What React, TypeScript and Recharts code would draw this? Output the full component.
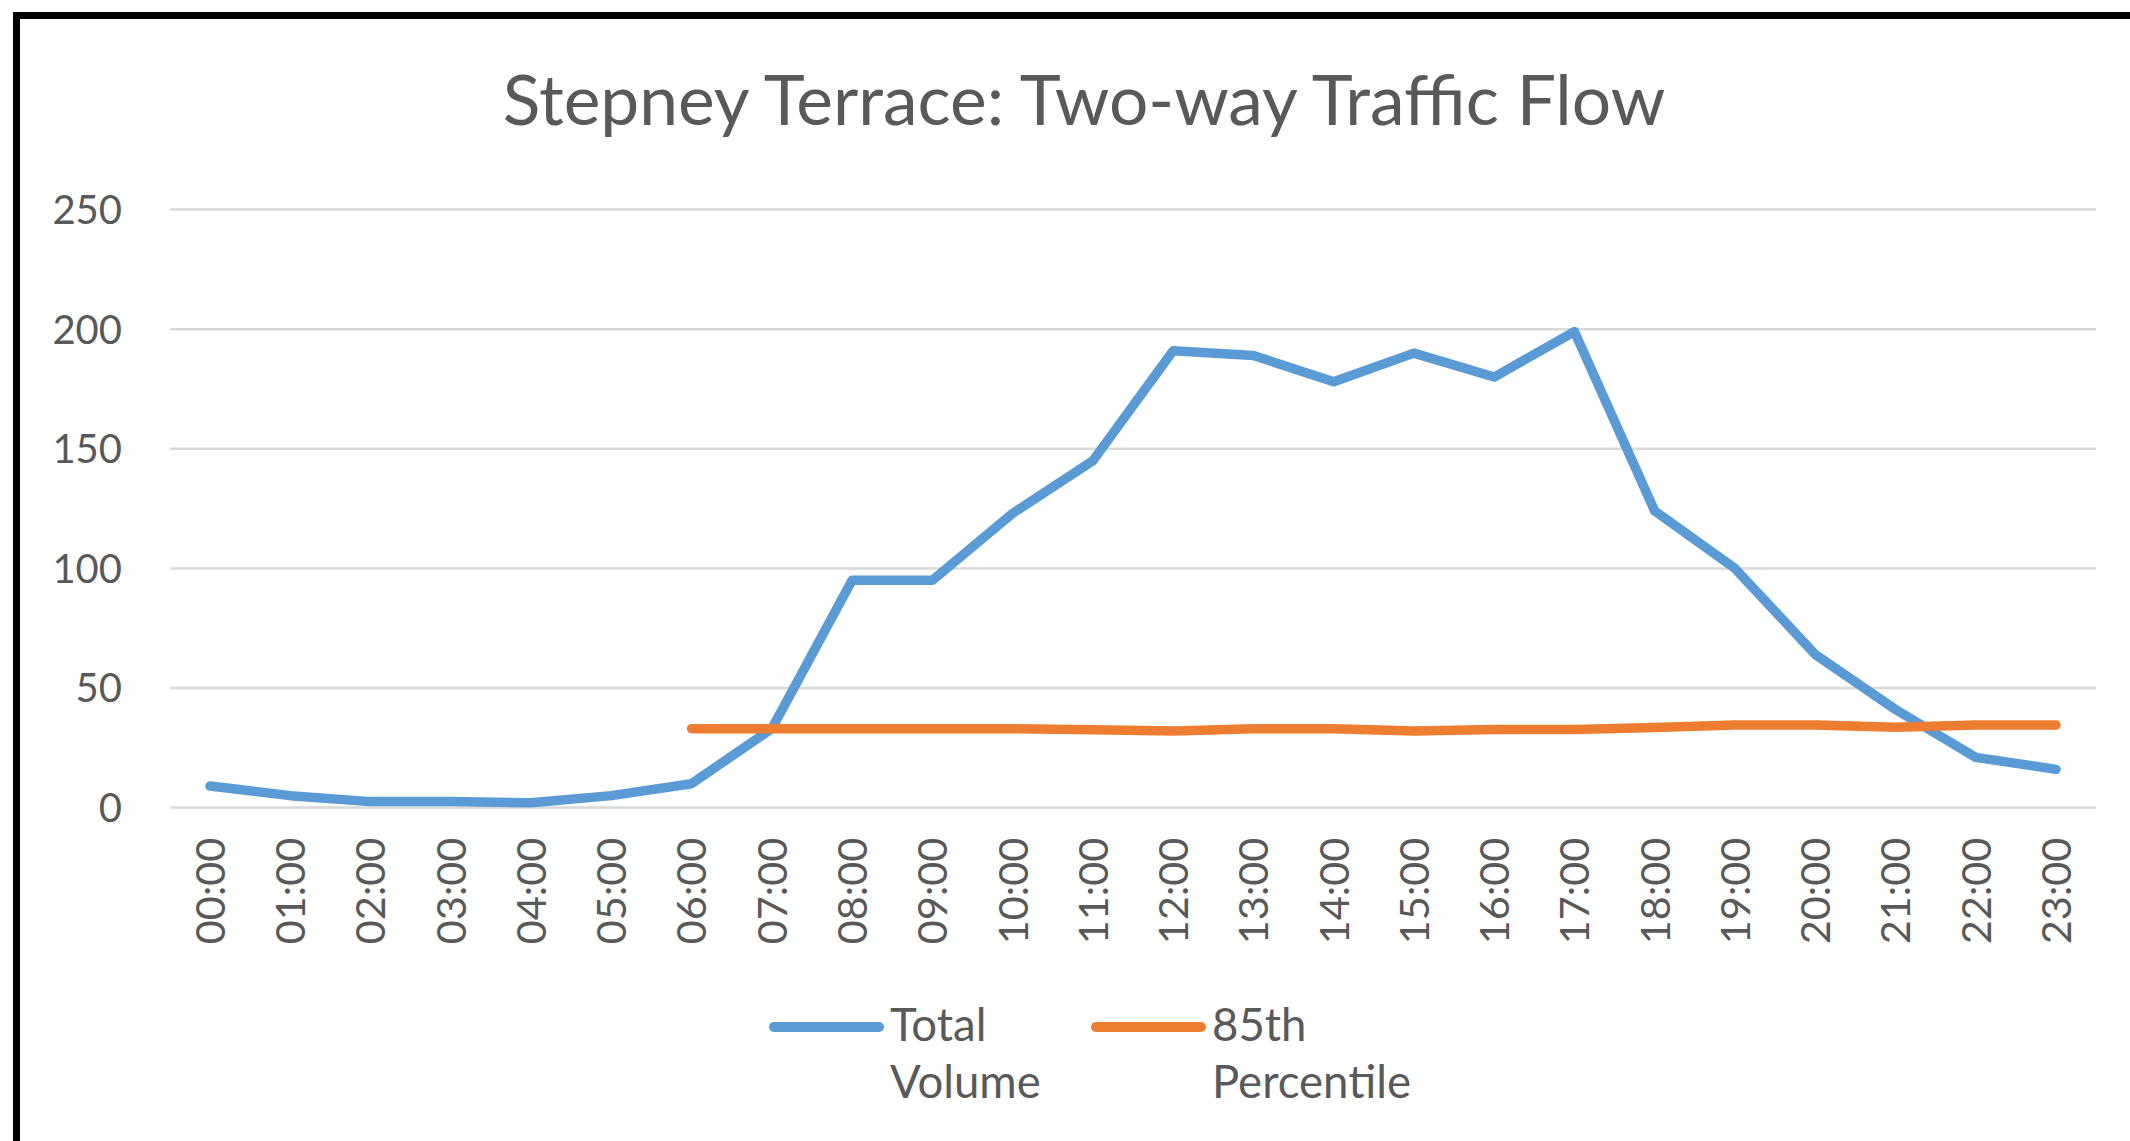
import { LineChart, Line, XAxis, YAxis, CartesianGrid } from 'recharts';

const hours = [
  '00:00', '01:00', '02:00', '03:00', '04:00', '05:00', '06:00', '07:00',
  '08:00', '09:00', '10:00', '11:00', '12:00', '13:00', '14:00', '15:00',
  '16:00', '17:00', '18:00', '19:00', '20:00', '21:00', '22:00', '23:00',
];

const totalVolume = [
  9, 5, 2.5, 2.5, 2, 5, 10, 33, 95, 95, 123, 145,
  191, 189, 178, 190, 180, 199, 124, 100, 64, 41, 21, 16,
];

// no 85th percentile reading before 06:00
const percentile85 = [
  null, null, null, null, null, null, 33, 33, 33, 33, 33, 32.5,
  32, 33, 33, 32, 32.7, 32.7, 33.5, 34.5, 34.5, 33.6, 34.5, 34.5,
];

const yTicks = [0, 50, 100, 150, 200, 250];

const series = [
  { key: 'total', label: ['Total', 'Volume'], color: '#5b9bd5' },
  { key: 'p85', label: ['85th', 'Percentile'], color: '#ed7d31' },
];

const data = hours.map((h, i) => ({ hour: h, total: totalVolume[i], p85: percentile85[i] }));

const FONT = 'Lato, "Liberation Sans", sans-serif';
const TEXT = '#595959';

const YTick = (props: any) => {
  const { x, y, payload } = props;
  return (
    <text x={x} y={y} dy="0.36em" textAnchor="end" fill={TEXT} fontSize={40} fontFamily={FONT}>
      {payload.value}
    </text>
  );
};

const XTick = (props: any) => {
  const { x, y, payload } = props;
  return (
    <text
      x={x}
      y={y}
      dy="0.36em"
      textAnchor="end"
      transform={`rotate(-90, ${x}, ${y})`}
      fill={TEXT}
      fontSize={41.5}
      fontFamily={FONT}
    >
      {payload.value}
    </text>
  );
};

export default function App() {
  return (
    <div style={{ position: 'absolute', left: 0, top: 0, width: 2130, height: 1141, overflow: 'hidden', background: '#fff' }}>
      <LineChart
        width={2130}
        height={1141}
        data={data}
        margin={{ top: 209.6, right: 34, left: 50, bottom: 203.4 }}
      >
        <CartesianGrid vertical={false} stroke="#d9d9d9" strokeWidth={2.5} />
        <XAxis
          dataKey="hour"
          height={130}
          axisLine={false}
          tickLine={false}
          tickSize={0}
          tickMargin={30}
          interval={0}
          padding={{ left: 40, right: 40 }}
          tick={<XTick />}
        />
        <YAxis
          width={120}
          domain={[0, 250]}
          ticks={yTicks}
          axisLine={false}
          tickLine={false}
          tickSize={0}
          tickMargin={48}
          tick={<YTick />}
        />
        {series.map((s) => (
          <Line
            key={s.key}
            type="linear"
            dataKey={s.key}
            stroke={s.color}
            strokeWidth={9.5}
            strokeLinecap="round"
            strokeLinejoin="round"
            dot={false}
            activeDot={false}
            isAnimationActive={false}
          />
        ))}
      </LineChart>

      <svg
        width={2130}
        height={1141}
        style={{ position: 'absolute', left: 0, top: 0, pointerEvents: 'none' }}
      >
        <text x={1084} y={125} textAnchor="middle" fill={TEXT} fontSize={69.5} fontFamily={FONT}>
          Stepney Terrace: Two-way Traffic Flow
        </text>
        {series.map((s, i) => {
          const x0 = 774 + i * 322;
          return (
            <g key={s.key}>
              <line x1={x0} y1={1027} x2={x0 + 105} y2={1027} stroke={s.color} strokeWidth={10} strokeLinecap="round" />
              <text x={x0 + 116} y={1041} fill={TEXT} fontSize={45.5} fontFamily={FONT}>
                {s.label[0]}
              </text>
              <text x={x0 + 116} y={1098} fill={TEXT} fontSize={45.5} fontFamily={FONT}>
                {s.label[1]}
              </text>
            </g>
          );
        })}
      </svg>

      <div
        style={{
          position: 'absolute',
          left: 13,
          top: 12,
          width: 2117,
          height: 1129,
          borderLeft: '7px solid #000',
          borderTop: '7px solid #000',
          boxSizing: 'border-box',
        }}
      />
    </div>
  );
}
